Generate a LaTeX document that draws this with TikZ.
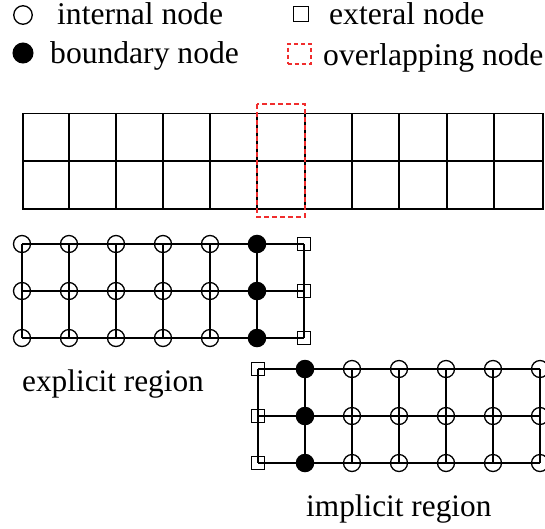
\documentclass[tikz,border=0pt]{standalone}
\usepackage{fontspec}
\setmainfont{Liberation Serif}
\definecolor{ovred}{RGB}{240,45,45}
\begin{document}
\begin{tikzpicture}[x=1pt,y=-1pt,
  intnode/.style={circle, draw, line width=1.3pt, minimum size=17pt, inner sep=0pt},
  bndnode/.style={circle, draw, fill=black, line width=1pt, minimum size=17.5pt, inner sep=0pt},
  extnode/.style={rectangle, draw, line width=1.3pt, minimum size=13pt, inner sep=0pt},
  link/.style={line width=1.5pt},
  gridline/.style={line width=1.6pt},
  ovl/.style={draw=ovred, dash pattern=on 5pt off 3pt, line width=2pt},
  lbl/.style={font=\fontsize{31.6}{36}\selectfont, anchor=base west, inner sep=0pt},
  rlbl/.style={font=\fontsize{31.3}{36}\selectfont, anchor=base west, inner sep=0pt}]
\useasboundingbox (0,0) rectangle (545,528);

% legend
\node[intnode, minimum size=18.5pt] (lgint) at (23,15) {};
\node[bndnode, minimum size=20pt] (lgbnd) at (23,53) {};
\node[extnode, minimum size=15pt] (lgext) at (301,14) {};
\node[ovl, dash pattern=on 4pt off 3pt, minimum width=23pt, minimum height=20pt, inner sep=0pt] (lgovl) at (299,53.5) {};
\node[lbl] (tint) at (57,24) {internal node};
\node[lbl] (tbnd) at (50,63) {boundary node};
\node[lbl] (text) at (329,24) {exteral node};
\node[lbl] (tovl) at (323,65) {overlapping node};

% top mesh
\draw[gridline] (23,113.5) rectangle (543,209);
\draw[gridline] (23,161) -- (543,161);
\foreach \x in {69,116,163,210,257,305,352,399,447,494}
  \draw[gridline] (\x,113.5) -- (\x,209);
\draw[ovl] (257,104) rectangle (305,217);

% explicit region
\foreach \i/\x/\s in {0/22/intnode,1/69/intnode,2/116/intnode,3/163/intnode,4/210/intnode,5/257/bndnode,6/304/extnode}
  \foreach \j/\y in {0/244,1/291,2/338}
    \node[\s] (e-\i-\j) at (\x,\y) {};
\foreach \j in {0,1,2}{
  \foreach \i in {0,1,2,3,4,5}{
    \pgfmathtruncatemacro{\nx}{\i+1}
    \draw[link] (e-\i-\j.center) -- (e-\nx-\j.center);
  }
}
\foreach \i in {0,1,2,3,4,5,6}{
  \foreach \j in {0,1}{
    \pgfmathtruncatemacro{\ny}{\j+1}
    \draw[link] (e-\i-\j.center) -- (e-\i-\ny.center);
  }
}
\node[rlbl] (lexp) at (22,391) {explicit region};

% implicit region
\foreach \i/\x/\s in {0/258/extnode,1/305/bndnode,2/352/intnode,3/399/intnode,4/446/intnode,5/493/intnode,6/540/intnode}
  \foreach \j/\y in {0/369,1/416,2/463}
    \node[\s] (m-\i-\j) at (\x,\y) {};
\foreach \j in {0,1,2}{
  \foreach \i in {0,1,2,3,4,5}{
    \pgfmathtruncatemacro{\nx}{\i+1}
    \draw[link] (m-\i-\j.center) -- (m-\nx-\j.center);
  }
}
\foreach \i in {0,1,2,3,4,5,6}{
  \foreach \j in {0,1}{
    \pgfmathtruncatemacro{\ny}{\j+1}
    \draw[link] (m-\i-\j.center) -- (m-\i-\ny.center);
  }
}
\node[rlbl] (limp) at (306,516) {implicit region};
\end{tikzpicture}
\end{document}
